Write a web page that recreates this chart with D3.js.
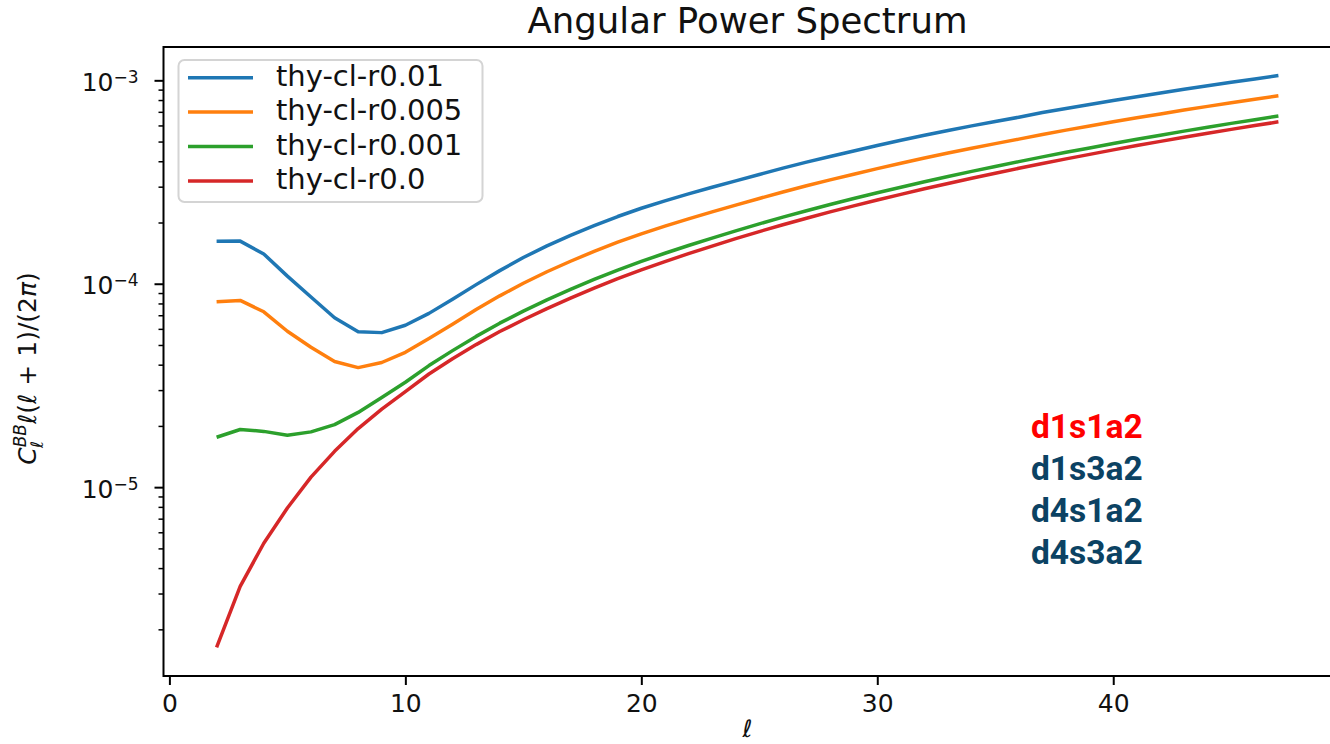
<!DOCTYPE html>
<html>
<head>
<meta charset="utf-8">
<script src="https://cdn.jsdelivr.net/npm/d3@7"></script>
<style>
  body { margin: 0; background: #fff; }
  svg { display: block; }
</style>
</head>
<body>
<svg id="chart" width="1330" height="744"></svg>
<script>
// ---------------- data ----------------
const ells = [2,3,4,5,6,7,8,9,10,11,12,13,14,15,16,17,18,19,20,21,22,23,24,25,26,27,28,29,30,31,32,33,34,35,36,37,38,39,40,41,42,43,44,45,46,47];
const UNIT = 1e-6; // values below are in units of 1e-6
const clR001 = [161.6,162,140,109,86,68,58,57.5,62.5,71.5,84,99,116,134.5,153.5,173,193,214,235,255.5,276.5,298,320.5,344.5,370,396,422.5,449.5,478,507,537,567,597,627.5,658.5,694,727,760.5,795,830,866,903,940,978,1016,1055];
const clR0005 = [81.6,82.8,72.8,58.4,48.7,41.5,38.7,41,46,53.8,63.3,74.7,87.2,100.5,114.5,129,144.2,160,176,192,208.5,225.5,243.5,262.5,282.5,303,324,345.5,368,391,415,439,463.5,488.5,514,542,569,596.5,625,654,683.5,714,744.5,776,807.5,840];
const clR0001 = [17.6,19.2,18.8,18.0,18.7,20.3,23.3,27.6,32.8,39.6,46.9,55.1,64,73.3,83.3,93.8,105,116.8,128.8,141.2,154.1,167.5,181.9,196.9,212.5,228.6,245.2,262.3,280,298.2,317.4,336.6,356.7,377.3,398.4,420.4,442.6,465.3,489,513.2,537.5,562.8,588.1,614.4,640.7,668];
const clR0 = [1.63,3.25,5.3,7.9,11.2,15.0,19.4,24.2,29.5,36.0,42.8,50.2,58.2,66.5,75.5,85.0,95.2,106,117,128.5,140.5,153,166.5,180.5,195,210,225.5,241.5,258,275,293,311,330,349.5,369.5,390,411,432.5,455,478,501,525,549,574,599,625];
const seriesNames = ["thy-cl-r0.01","thy-cl-r0.005","thy-cl-r0.001","thy-cl-r0.0"];
const seriesColors = ["#1f77b4","#ff7f0e","#2ca02c","#d62728"];
const xTicks = [0,10,20,30,40];
const yMajorExp = [-5,-4,-3];
const annotations = ["d1s1a2","d1s3a2","d4s1a2","d4s3a2"];
const annotationColors = ["#ff0000","#0b4263","#0b4263","#0b4263"];
const titleText = "Angular Power Spectrum";

// ---------------- layout ----------------
const svg = d3.select("#chart");
const L = 163.5, T = 47, B = 676, R = 1331.5;
const FONT = "'DejaVu Sans', sans-serif";

const allSeries = [clR001, clR0005, clR0001, clR0].map((arr, i) => ({
  name: seriesNames[i], color: seriesColors[i],
  pts: arr.map((v, j) => [ells[j], v * UNIT])
}));

// matplotlib-like 5% margins
const xExt = d3.extent(ells);
const xPad = (xExt[1] - xExt[0]) * 0.05;
const x = d3.scaleLinear().domain([xExt[0] - xPad, xExt[1] + xPad]).range([L, R]);

const allVals = allSeries.flatMap(s => s.pts.map(p => p[1]));
const lgLo = Math.log10(d3.min(allVals)), lgHi = Math.log10(d3.max(allVals));
const lgPad = (lgHi - lgLo) * 0.05;
const y = d3.scaleLog().domain([Math.pow(10, lgLo - lgPad), Math.pow(10, lgHi + lgPad)]).range([B, T]);

// ---------------- lines ----------------
const line = d3.line().x(d => x(d[0])).y(d => y(d[1]));
svg.append("g").selectAll("path").data(allSeries).join("path")
  .attr("d", d => line(d.pts))
  .attr("fill", "none")
  .attr("stroke", d => d.color)
  .attr("stroke-width", 3.5)
  .attr("stroke-linejoin", "round")
  .attr("stroke-linecap", "butt");

// ---------------- axes ----------------
const majorVals = yMajorExp.map(e => Math.pow(10, e));
const [d0, d1] = y.domain();
const minorVals = [];
for (let e = Math.floor(Math.log10(d0)); e <= Math.ceil(Math.log10(d1)); e++) {
  for (let m = 2; m <= 9; m++) {
    const v = m * Math.pow(10, e);
    if (v >= d0 && v <= d1) minorVals.push(v);
  }
}

const gyMinor = svg.append("g").attr("transform", `translate(${L},0)`)
  .call(d3.axisLeft(y).tickValues(minorVals).tickSize(5).tickFormat(""));
gyMinor.select(".domain").remove();
gyMinor.selectAll("line").attr("stroke", "#000").attr("stroke-width", 1.5);

const gy = svg.append("g").attr("transform", `translate(${L},0)`)
  .call(d3.axisLeft(y).tickValues(majorVals).tickSize(9).tickFormat(""));
gy.select(".domain").remove();
gy.selectAll("line").attr("stroke", "#000").attr("stroke-width", 2);
gy.selectAll(".tick text").remove();
gy.selectAll(".tick").each(function(d, i) {
  const t = d3.select(this).append("text")
    .attr("x", -25).attr("y", 10)
    .attr("text-anchor", "end")
    .attr("font-family", FONT).attr("fill", "#111");
  t.append("tspan").attr("font-size", 25).text("10");
  t.append("tspan").attr("font-size", 17).attr("dy", -8).text("\u2212" + Math.abs(yMajorExp[i]));
});

const gx = svg.append("g").attr("transform", `translate(0,${B})`)
  .call(d3.axisBottom(x).tickValues(xTicks).tickSize(9).tickPadding(9).tickFormat(d3.format("d")));
gx.select(".domain").remove();
gx.selectAll("line").attr("stroke", "#000").attr("stroke-width", 2);
gx.selectAll("text").attr("font-family", FONT).attr("font-size", 25).attr("fill", "#111").attr("dy", "0.72em");

// spines
svg.append("rect").attr("x", L).attr("y", T).attr("width", R - L).attr("height", B - T)
  .attr("fill", "none").attr("stroke", "#000").attr("stroke-width", 2);

// ---------------- labels ----------------
svg.append("text").attr("x", (L + R) / 2).attr("y", 33)
  .attr("text-anchor", "middle").attr("font-family", FONT).attr("font-size", 35.5)
  .attr("fill", "#111").text(titleText);

svg.append("text").attr("x", (L + R) / 2).attr("y", 737)
  .attr("text-anchor", "middle").attr("font-family", FONT).attr("font-size", 24)
  .attr("font-style", "italic").attr("fill", "#111").text("\u2113");

const yl = svg.append("text")
  .attr("transform", `translate(36,${(T + B) / 2 + 7}) rotate(-90)`)
  .attr("text-anchor", "middle").attr("font-family", FONT).attr("font-size", 25).attr("fill", "#111");
yl.append("tspan").attr("font-style", "italic").text("C");
yl.append("tspan").attr("font-style", "italic").attr("font-size", 17).attr("dy", -10).text("BB");
yl.append("tspan").attr("font-style", "italic").attr("font-size", 17).attr("dx", -24).attr("dy", 17).text("\u2113");
yl.append("tspan").attr("font-style", "italic").attr("dx", 17).attr("dy", -7).text("\u2113");
yl.append("tspan").text("(");
yl.append("tspan").attr("font-style", "italic").text("\u2113");
yl.append("tspan").text(" + 1)/(2");
yl.append("tspan").attr("font-style", "italic").text("\u03c0");
yl.append("tspan").text(")");

// ---------------- legend ----------------
const lg = svg.append("g");
lg.append("rect").attr("x", 178.5).attr("y", 60).attr("width", 304).attr("height", 142)
  .attr("rx", 6).attr("fill", "#fff").attr("fill-opacity", 0.8)
  .attr("stroke", "#d4d4d4").attr("stroke-width", 2);
const rows = lg.selectAll("g.row").data(allSeries).join("g").attr("class", "row")
  .attr("transform", (d, i) => `translate(0,${77.7 + i * 34.4})`);
rows.append("line").attr("x1", 188).attr("x2", 253).attr("y1", 0).attr("y2", 0)
  .attr("stroke", d => d.color).attr("stroke-width", 3.5);
rows.append("text").attr("x", 276).attr("y", 8)
  .attr("font-family", FONT).attr("font-size", 29).attr("fill", "#111").text(d => d.name);

// ---------------- annotations ----------------
svg.append("g").selectAll("text").data(annotations).join("text")
  .attr("x", 1031).attr("y", (d, i) => 438 + i * 42)
  .attr("font-family", "Roboto, sans-serif").attr("font-weight", 700).attr("font-size", 33.5)
  .attr("fill", (d, i) => annotationColors[i]).text(d => d);
</script>
</body>
</html>
